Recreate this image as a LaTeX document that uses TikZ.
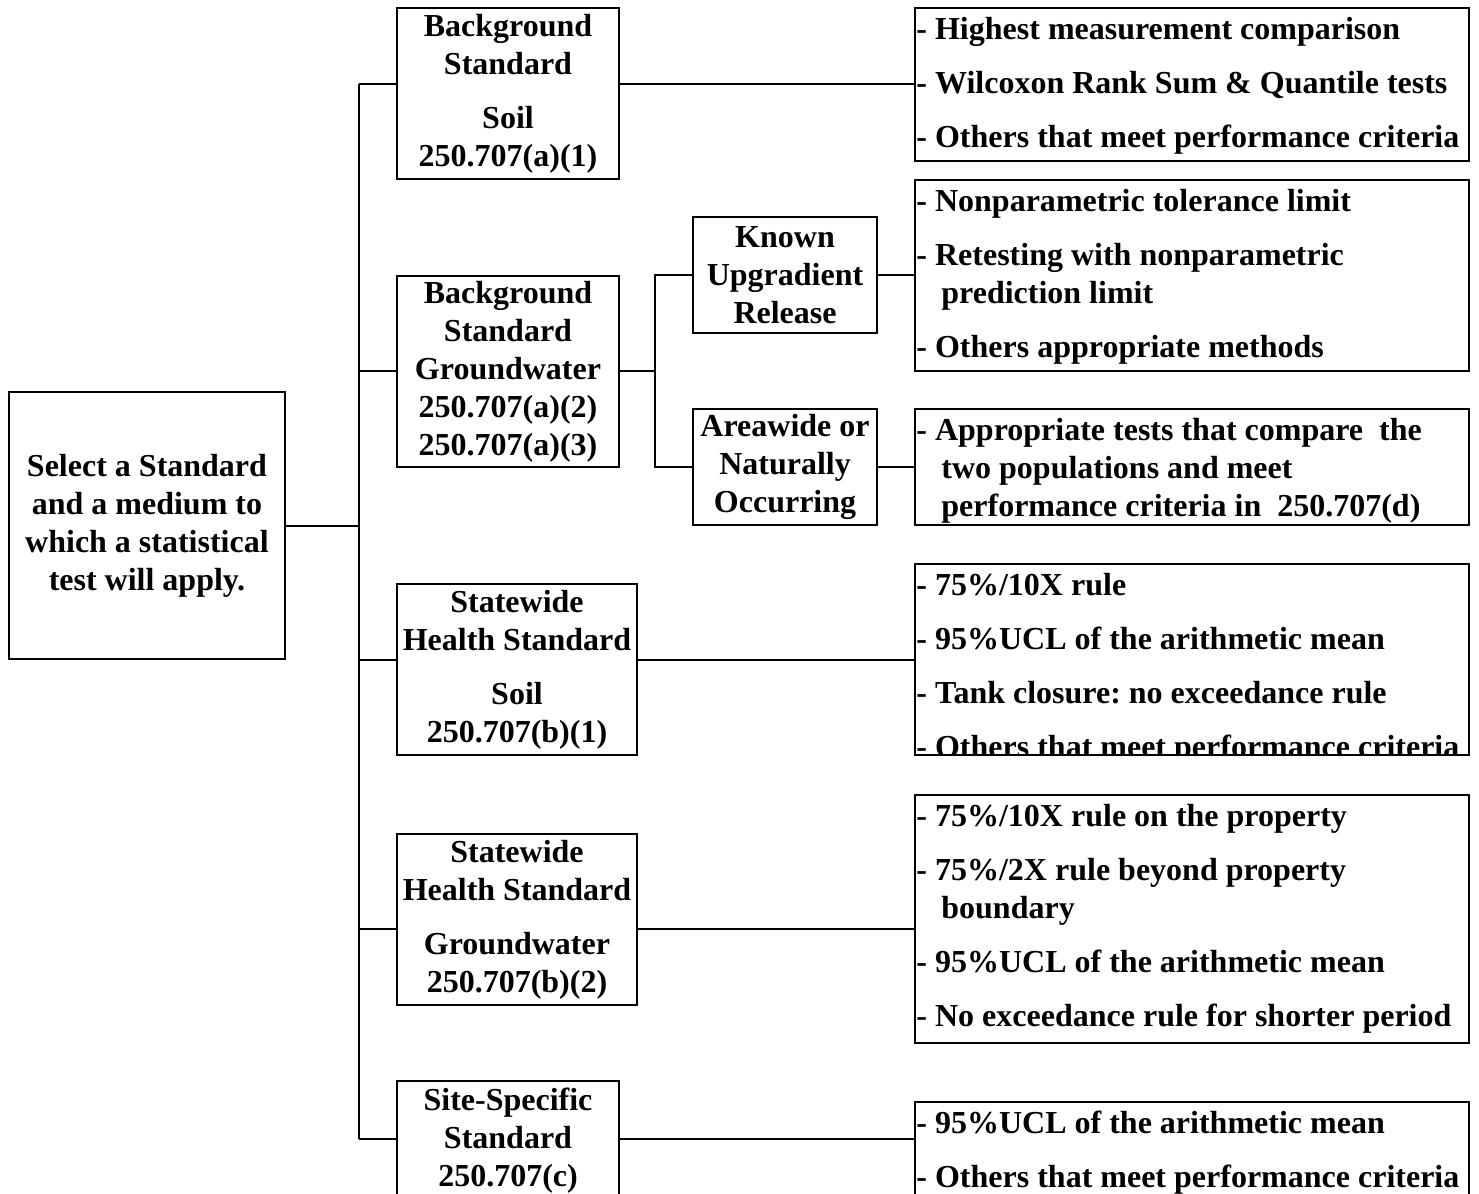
\documentclass[tikz,border=0pt]{standalone}
\usepackage{fontspec}
\setmainfont{Liberation Serif}
\frenchspacing
\tikzset{%
  block/.style = {draw, line width=1pt, rectangle, inner sep=1pt, align=center},
  list/.style  = {draw, line width=1pt, rectangle, minimum width=9.735cm},
  items/.style = {anchor=north west, align=left, inner xsep=1pt, inner ysep=2.5pt}
}
\tikzstyle{link} = [draw, line width=1pt]
\newcommand{\wrapin}{\hspace*{0.78em}}

\begin{document}
\begin{tikzpicture}[font=\bfseries\fontsize{16pt}{19pt}\selectfont]

\useasboundingbox (0,0) rectangle (25.99cm,-20.98cm);

\draw
  node [block, minimum width=4.85cm, minimum height=4.692cm] (root) at (2.583cm,-9.235cm)
    {Select a Standard\\and a medium to\\which a statistical\\test will apply.}
;

\draw
  node [block, minimum width=3.901cm, minimum height=3.005cm] (bss) at (8.927cm,-1.643cm)
    {Background\\Standard\\[8pt]Soil\\250.707(a)(1)}
  node [block, minimum width=3.901cm, minimum height=3.356cm] (bsg) at (8.927cm,-6.528cm)
    {Background\\Standard\\Groundwater\\250.707(a)(2)\\250.707(a)(3)}
  node [block, minimum width=4.218cm, minimum height=3.005cm] (shss) at (9.085cm,-11.765cm)
    {Statewide\\Health Standard\\[8pt]Soil\\250.707(b)(1)}
  node [block, minimum width=4.218cm, minimum height=3.005cm] (shsg) at (9.085cm,-16.158cm)
    {Statewide\\Health Standard\\[8pt]Groundwater\\250.707(b)(2)}
  node [block, minimum width=3.901cm, minimum height=2.109cm] (sss) at (8.927cm,-20.051cm)
    {Site-Specific\\Standard\\250.707(c)}
;

\draw
  node [block, minimum width=3.233cm, minimum height=2.038cm] (known) at (13.795cm,-4.833cm)
    {Known\\Upgradient\\Release}
  node [block, minimum width=3.233cm, minimum height=2.038cm] (area) at (13.795cm,-8.207cm)
    {Areawide or\\Naturally\\Occurring}
;

  \node [list, minimum height=2.689cm] (r1) at (20.947cm,-1.485cm) {};
  \node [list, minimum height=3.356cm] (r2) at (20.947cm,-4.841cm) {};
  \node [list, minimum height=2.038cm] (r3) at (20.947cm,-8.207cm) {};
  \node [list, minimum height=3.356cm] (r4) at (20.947cm,-11.589cm) {};
  \node [list, minimum height=4.358cm] (r5) at (20.947cm,-16.150cm) {};
  \node [list, minimum height=2.812cm] (r6) at (20.947cm,-20.771cm) {};

  \node [items] (r1text) at (r1.north west) {\strut- Highest measurement comparison\\[8pt]- Wilcoxon Rank Sum \& Quantile tests\\[8pt]- Others that meet performance criteria};
  \node [items] (r2text) at (r2.north west) {\strut- Nonparametric tolerance limit\\[8pt]- Retesting with nonparametric\\\wrapin prediction limit\\[8pt]- Others appropriate methods};
  \node [items] (r3text) at (r3.north west) {\strut- Appropriate tests that compare\ \ the\\\wrapin two populations and meet\\\wrapin performance criteria in\ \ 250.707(d)};
  \begin{scope}
  \clip (r4.north west) rectangle (r4.south east);
  \node [items] (r4text) at (r4.north west) {\strut- 75\%/10X rule\\[8pt]- 95\%UCL of the arithmetic mean\\[8pt]- Tank closure: no exceedance rule\\[8pt]- Others that meet performance criteria};
  \end{scope}
  \node [items] (r5text) at (r5.north west) {\strut- 75\%/10X rule on the property\\[8pt]- 75\%/2X rule beyond property\\\wrapin boundary\\[8pt]- 95\%UCL of the arithmetic mean\\[8pt]- No exceedance rule for shorter period};
  \node [items] (r6text) at (r6.north west) {\strut- 95\%UCL of the arithmetic mean\\[8pt]- Others that meet performance criteria};

  \coordinate (row1) at (6.309cm,-1.476cm);
  \coordinate (row4) at (6.309cm,-16.325cm);
  \coordinate (row5) at (6.309cm,-20.007cm);
  \coordinate (split) at (11.51cm,-6.528cm);

  \draw [link] (row1) -- (row5);
  \draw [link] (root.east) -- (root.east -| row1);
  \draw [link] (row1) -- (bss.west |- row1);
  \draw [link] (bsg.west -| row1) -- (bsg.west);
  \draw [link] (r4.west -| row1) -- (shss.west |- r4.west);
  \draw [link] (row4) -- (shsg.west |- row4);
  \draw [link] (row5) -- (sss.west |- row5);

  \draw [link] (bss.east |- row1) -- (r1.west |- row1);
  \draw [link] (shss.east |- r4.west) -- (r4.west);
  \draw [link] (shsg.east |- row4) -- (r5.west |- row4);
  \draw [link] (sss.east |- row5) -- (r6.west |- row5);

  \draw [link] (bsg.east) -- (split);
  \draw [link] (known.west) -| (split) |- (area.west);
  \draw [link] (known.east) -- (known.east -| r2.west);
  \draw [link] (area.east) -- (r3.west);

\end{tikzpicture}
\end{document}
